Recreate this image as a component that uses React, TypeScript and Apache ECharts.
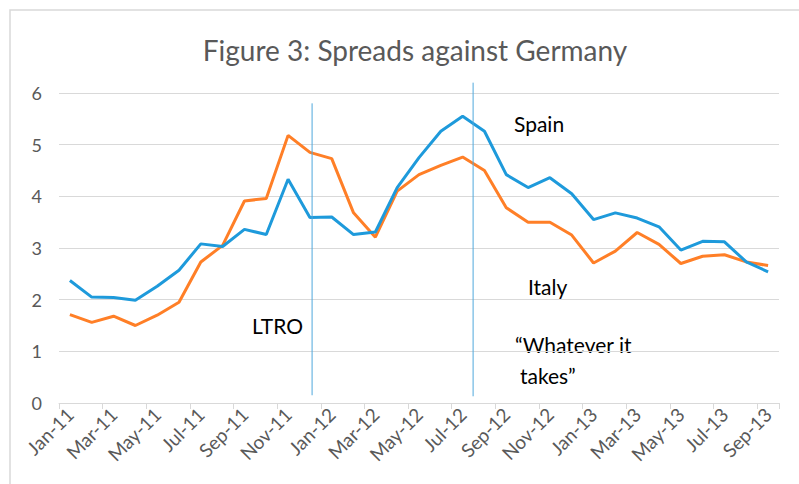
import { useEffect, useRef } from "react";
import * as echarts from "echarts";

const months = [
  "Jan-11", "Feb-11", "Mar-11", "Apr-11", "May-11", "Jun-11", "Jul-11", "Aug-11", "Sep-11", "Oct-11", "Nov-11", "Dec-11",
  "Jan-12", "Feb-12", "Mar-12", "Apr-12", "May-12", "Jun-12", "Jul-12", "Aug-12", "Sep-12", "Oct-12", "Nov-12", "Dec-12",
  "Jan-13", "Feb-13", "Mar-13", "Apr-13", "May-13", "Jun-13", "Jul-13", "Aug-13", "Sep-13",
];

const spain = [
  2.37, 2.05, 2.04, 1.99, 2.26, 2.57, 3.08, 3.03, 3.36, 3.26, 4.33, 3.59,
  3.6, 3.26, 3.31, 4.17, 4.75, 5.26, 5.55, 5.26, 4.42, 4.17, 4.36, 4.05,
  3.55, 3.68, 3.58, 3.41, 2.96, 3.13, 3.12, 2.73, 2.54,
];

const italy = [
  1.71, 1.56, 1.68, 1.5, 1.7, 1.95, 2.73, 3.05, 3.91, 3.96, 5.18, 4.85,
  4.73, 3.68, 3.21, 4.1, 4.42, 4.6, 4.76, 4.5, 3.78, 3.5, 3.5, 3.25,
  2.71, 2.94, 3.3, 3.07, 2.7, 2.84, 2.87, 2.73, 2.66,
];

// event marker lines: position along the month axis (0..33) and vertical extent
const ltroLine = [[11.6, 0.15], [11.6, 5.8]];
const whateverLine = [[18.98, 0.13], [18.98, 6.2]];

const yTicks = [0, 1, 2, 3, 4, 5, 6];

const FONT = "Lato, 'Open Sans', sans-serif";
const MARKER = "#4FA8DC";

export default function App() {
  const ref = useRef<HTMLDivElement>(null);

  useEffect(() => {
    if (!ref.current) return;
    const chart = echarts.init(ref.current, undefined, { renderer: "svg" });
    const markerSeries = (name: string, data: number[][]) => ({
      name,
      type: "line",
      data,
      xAxisIndex: 1,
      symbol: "none",
      clip: false,
      silent: true,
      color: MARKER,
      lineStyle: { color: MARKER, width: 1, opacity: 1 },
      itemStyle: { color: MARKER },
      emphasis: { disabled: true },
      z: 4,
    });
    chart.setOption({
      animation: false,
      backgroundColor: "#ffffff",
      textStyle: { fontFamily: FONT },
      title: {
        text: "Figure 3: Spreads against Germany",
        left: 410,
        top: 31,
        textAlign: "center",
        textStyle: { fontFamily: FONT, fontSize: 28, fontWeight: "normal", color: "#595959" },
      },
      grid: { left: 59, right: 20, top: 93, bottom: 81, containLabel: false },
      xAxis: [
        {
          type: "category",
          data: months,
          boundaryGap: true,
          axisLine: { show: true, lineStyle: { color: "#d9d9d9", width: 1 } },
          axisTick: { show: true, interval: 1, length: 6, lineStyle: { color: "#d9d9d9" } },
          axisLabel: {
            interval: 1,
            rotate: 45,
            margin: 8,
            fontSize: 19,
            color: "#595959",
            fontFamily: FONT,
          },
          splitLine: { show: false },
        },
        {
          type: "value",
          min: 0,
          max: 33,
          show: false,
          position: "bottom",
        },
      ],
      yAxis: {
        type: "value",
        min: yTicks[0],
        max: yTicks[yTicks.length - 1],
        interval: 1,
        axisLine: { show: false },
        axisTick: { show: false },
        axisLabel: { fontSize: 18, color: "#595959", margin: 17, fontFamily: FONT },
        splitLine: { lineStyle: { color: "#d9d9d9", width: 1 } },
      },
      series: [
        {
          name: "Spain",
          type: "line",
          data: spain,
          xAxisIndex: 0,
          symbol: "none",
          lineStyle: { color: "#1E9ADB", width: 3 },
          itemStyle: { color: "#1E9ADB" },
          z: 3,
        },
        {
          name: "Italy",
          type: "line",
          data: italy,
          xAxisIndex: 0,
          symbol: "none",
          lineStyle: { color: "#FF7F27", width: 3 },
          itemStyle: { color: "#FF7F27" },
          z: 2,
        },
        markerSeries("LTRO", ltroLine),
        markerSeries("Whatever it takes", whateverLine),
      ],
      graphic: [
        {
          type: "rect",
          shape: { x: 10, y: 10, width: 800, height: 490 },
          style: { fill: "none", stroke: "#d9d9d9", lineWidth: 1.5 },
          silent: true,
        },
        {
          type: "text",
          x: 514,
          y: 123,
          style: { text: "Spain", font: `21px ${FONT}`, fill: "#000000", verticalAlign: "middle" },
        },
        {
          type: "text",
          x: 528,
          y: 286,
          style: { text: "Italy", font: `21px ${FONT}`, fill: "#000000", verticalAlign: "middle" },
        },
        {
          type: "text",
          x: 252,
          y: 325,
          style: { text: "LTRO", font: `21px ${FONT}`, fill: "#000000", verticalAlign: "middle" },
        },
        {
          type: "text",
          x: 515,
          y: 344,
          style: { text: "\u201cWhatever it", font: `21px ${FONT}`, fill: "#000000", verticalAlign: "middle" },
        },
        {
          type: "text",
          x: 520,
          y: 375,
          style: { text: "takes\u201d", font: `21px ${FONT}`, fill: "#000000", verticalAlign: "middle" },
        },
      ],
    });
    return () => chart.dispose();
  }, []);

  return (
    <div
      ref={ref}
      style={{ position: "fixed", left: 0, top: 0, width: 799, height: 484, background: "#fff" }}
    />
  );
}
